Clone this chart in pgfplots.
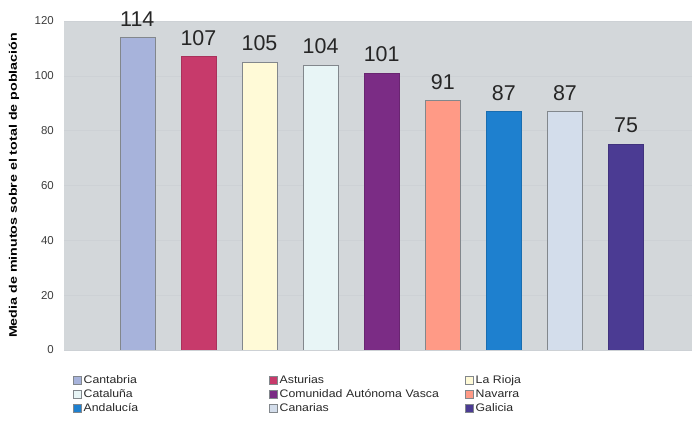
\documentclass[border=0pt]{standalone}
\usepackage{fontspec}
\setmainfont{Liberation Sans}
\newfontfamily\legfont[FakeStretch=1.12]{Liberation Sans}
\newfontfamily\ylabfont[FakeStretch=1.3]{Liberation Sans}
\usepackage{pgfplots}
\pgfplotsset{compat=1.18}
\definecolor{bgc}{RGB}{211,215,218}
\definecolor{gridc}{RGB}{205,209,213}
\definecolor{tickc}{RGB}{60,60,60}
\definecolor{legc}{RGB}{40,40,40}
\definecolor{edgec}{RGB}{130,135,140}
\definecolor{c1}{RGB}{167,179,219}
\definecolor{c2}{RGB}{199,58,107}
\definecolor{c3}{RGB}{255,250,215}
\definecolor{c4}{RGB}{232,245,246}
\definecolor{c5}{RGB}{123,44,133}
\definecolor{c6}{RGB}{255,154,134}
\definecolor{c7}{RGB}{30,128,207}
\definecolor{c8}{RGB}{211,221,235}
\definecolor{c9}{RGB}{75,59,147}
\begin{document}
\begin{tikzpicture}
\path[use as bounding box] (0,0) rectangle (692bp,427bp);
\begin{axis}[
 at={(64bp,77bp)}, anchor=south west,
 width=628bp, height=329bp, scale only axis,
 xmin=-1.2, xmax=9.08, ymin=0, ymax=120,
 ytick={0,20,...,120}, xtick=\empty,
 axis background/.style={fill=bgc},
 axis line style={draw=none},
 major tick length=0pt,
 ymajorgrids, grid style={gridc, line width=0.5bp},
 yticklabel style={font=\fontsize{11.5}{13}\selectfont, text=tickc, inner sep=0pt, xshift=-10bp},
 /pgf/number format/assume math mode=true,
 ylabel={Media de minutos sobre el total de población},
 ylabel style={font=\ylabfont\bfseries\fontsize{11}{12}\selectfont, at={(axis description cs:-0.0796,0.5)}, anchor=center},
 ybar, bar width=35bp, bar shift=0pt,
 nodes near coords,
 every node near coord/.append style={font=\fontsize{21.5}{22}\selectfont, text=black!85, inner sep=0pt, anchor=south, yshift=11bp},
 legend columns=3,
 legend cell align=left,
 legend style={at={(axis description cs:0.0143,-0.07)}, anchor=north west, draw=none, fill=none, inner sep=0pt,
   font=\legfont\fontsize{11}{12}\selectfont, text=legc,
   nodes={inner sep=0.5bp, text height=9.5bp, text depth=3.5bp, text width=180bp},
   /tikz/every even column/.append style={column sep=5bp},
   /tikz/every odd column/.append style={column sep=1.5bp}},
 legend image code/.code={\draw[#1,draw=edgec, line width=0.5bp] (0bp,-4bp) rectangle (8bp,4bp);},
]
\addplot[fill=c1, draw=edgec] coordinates {(0,114)}; \addlegendentry{Cantabria}
\addplot[fill=c2, draw=c2!85!black] coordinates {(1,107)}; \addlegendentry{Asturias}
\addplot[fill=c3, draw=edgec] coordinates {(2,105)}; \addlegendentry{La Rioja}
\addplot[fill=c4, draw=edgec] coordinates {(3,104)}; \addlegendentry{Cataluña}
\addplot[fill=c5, draw=c5!85!black] coordinates {(4,101)}; \addlegendentry{Comunidad Autónoma Vasca}
\addplot[fill=c6, draw=edgec] coordinates {(5,91)}; \addlegendentry{Navarra}
\addplot[fill=c7, draw=c7!85!black] coordinates {(6,87)}; \addlegendentry{Andalucía}
\addplot[fill=c8, draw=edgec] coordinates {(7,87)}; \addlegendentry{Canarias}
\addplot[fill=c9, draw=c9!85!black] coordinates {(8,75)}; \addlegendentry{Galicia}
\end{axis}
\end{tikzpicture}
\end{document}
